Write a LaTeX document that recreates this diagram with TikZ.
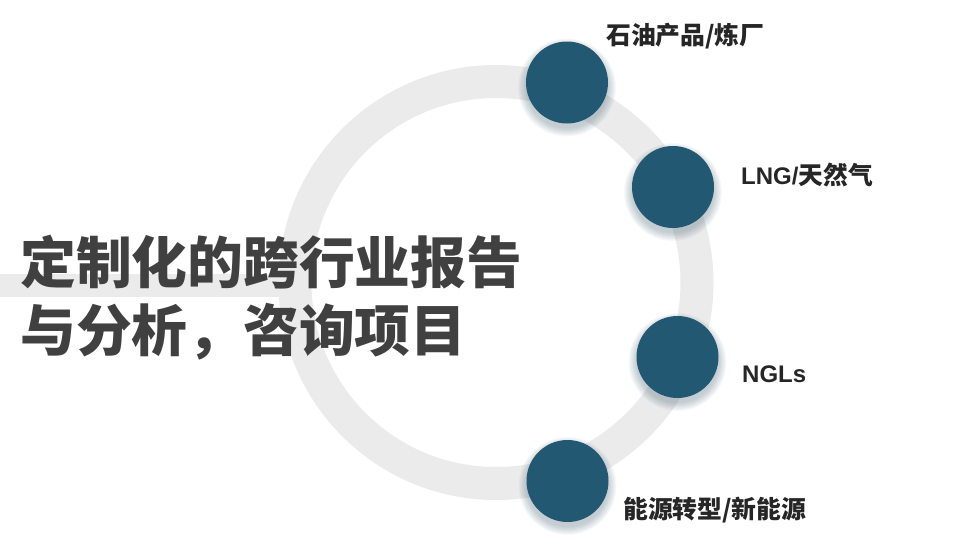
\documentclass[tikz,border=0pt]{standalone}
\usepackage{fontspec}
\newfontfamily\cjk{Noto Sans CJK SC}
\newfontfamily\lat{Liberation Sans}
\definecolor{ringgray}{HTML}{EBEBEB}
\definecolor{dotblue}{HTML}{235873}
\definecolor{titlegray}{HTML}{404040}
\definecolor{labeldark}{HTML}{262626}
\tikzset{
  dot/.style={circle, fill=dotblue, minimum size=82pt, inner sep=0pt},
  ringline/.style={draw=ringgray, line width=33pt},
  titletext/.style={anchor=base west, inner sep=0pt, text=titlegray, font=\cjk\bfseries\fontsize{55.8}{60}\selectfont},
  labeltext/.style={anchor=base west, inner sep=0pt, text=labeldark, font=\bfseries\fontsize{24}{28}\selectfont},
}
\newcommand{\cjkb}{\fontsize{24.8}{28}\selectfont\cjk}
\newcommand{\softshadow}[2]{%
  \foreach \k in {1,...,10}{
    \fill[dotblue!60!gray, opacity=0.035] (#1,#2+5) circle ({40+0.9*\k});
  }%
}
\begin{document}
\begin{tikzpicture}[x=1pt,y=-1pt]
\useasboundingbox[fill=white] (0,0) rectangle (970,546);
% left bar
\fill[ringgray] (0,274) rectangle (300,297);
% big ring
\draw[ringline] (496,282.5) circle (201);
% shadows
\softshadow{567}{82.5}
\softshadow{673}{187}
\softshadow{677.5}{357}
\softshadow{567.5}{481}
% dots
\node[dot] (d1) at (567,82.5) {};
\node[dot] (d2) at (673,187) {};
\node[dot] (d3) at (677.5,357) {};
\node[dot] (d4) at (567.5,481) {};
% title
\node[titletext] (t1) at (20,283) {定制化的跨行业报告};
\node[titletext] (t2) at (20,351) {与分析，咨询项目};
% labels
\node[labeltext] (l1) at (606,44) {\cjkb 石油产品/炼厂};
\node[labeltext] (l2) at (741,184) {\lat LNG/\cjkb 天然气};
\node[labeltext] (l3) at (742,382) {\lat NGLs};
\node[labeltext] (l4) at (623,518) {\cjkb 能源转型/新能源};
\end{tikzpicture}
\end{document}
